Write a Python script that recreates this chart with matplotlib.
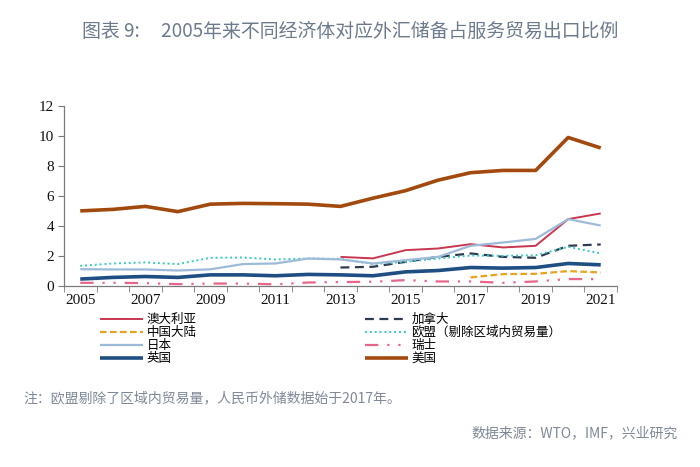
import numpy as np
import matplotlib

matplotlib.use("Agg")
import matplotlib.pyplot as plt
from matplotlib.ticker import FixedLocator

plt.rcParams["font.family"] = ["Noto Sans CJK SC", "DejaVu Sans"]

years = list(range(2005, 2022))
nan = np.nan

# 外汇储备 / 服务贸易出口 (倍)
australia = [nan] * 8 + [1.93, 1.83, 2.38, 2.49, 2.78, 2.56, 2.67, 4.45, 4.83]
canada = [nan] * 8 + [1.22, 1.27, 1.60, 1.93, 2.16, 1.93, 1.87, 2.67, 2.76]
china = [nan] * 12 + [0.56, 0.78, 0.80, 0.98, 0.89]
eu = [1.33, 1.49, 1.56, 1.45, 1.87, 1.89, 1.76, 1.82, 1.80,
      1.45, 1.60, 1.82, 2.02, 2.00, 2.04, 2.60, 2.16]
japan = [1.11, 1.09, 1.09, 1.02, 1.10, 1.45, 1.49, 1.82, 1.76,
         1.49, 1.71, 1.93, 2.67, 2.89, 3.13, 4.45, 4.02]
swiss = [0.20, 0.20, 0.18, 0.11, 0.15, 0.15, 0.10, 0.22, 0.25,
         0.27, 0.38, 0.29, 0.29, 0.20, 0.29, 0.45, 0.45]
uk = [0.45, 0.56, 0.62, 0.56, 0.73, 0.73, 0.67, 0.76, 0.73,
      0.67, 0.93, 1.02, 1.22, 1.18, 1.22, 1.49, 1.40]
us = [5.00, 5.10, 5.30, 4.95, 5.45, 5.50, 5.48, 5.45, 5.30,
      5.85, 6.35, 7.05, 7.55, 7.70, 7.70, 9.90, 9.20]

series = [
    ("澳大利亚", australia, dict(color="#c8374f", lw=1.4, ls="-")),
    ("加拿大", canada, dict(color="#2e3b52", lw=1.6, ls=(0, (4, 2.5)))),
    ("中国大陆", china, dict(color="#e8a321", lw=1.6, ls=(0, (3, 1.5)))),
    ("欧盟（剔除区域内贸易量）", eu, dict(color="#3cc8c0", lw=1.4, ls=(0, (1, 1.5)))),
    ("日本", japan, dict(color="#9dbbd9", lw=1.6, ls="-")),
    ("瑞士", swiss, dict(color="#e8668a", lw=1.6, ls=(0, (6, 4, 1, 4, 1, 4)))),
    ("英国", uk, dict(color="#1f4f82", lw=2.6, ls="-")),
    ("美国", us, dict(color="#a24a0e", lw=2.6, ls="-")),
]

fig = plt.figure(figsize=(7, 4.67), dpi=100)
ax = fig.add_axes([0.0914, 0.388, 0.790, 0.385])

handles = []
for name, vals, style in series:
    (line,) = ax.plot(years, vals, label=name, solid_capstyle="butt", **style)
    handles.append(line)

ax.set_xlim(2004.5, 2021.5)
ax.set_ylim(0, 12)
ax.set_yticks(range(0, 13, 2))
ax.set_xticks(years[::2])
ax.xaxis.set_minor_locator(FixedLocator(np.arange(2004.5, 2022, 1)))

axis_grey = "#7a7a7a"
for side in ("top", "right"):
    ax.spines[side].set_visible(False)
for side in ("left", "bottom"):
    ax.spines[side].set_color(axis_grey)
    ax.spines[side].set_linewidth(0.9)

ax.tick_params(axis="x", which="major", length=0, pad=6)
ax.tick_params(axis="x", which="minor", length=4, color=axis_grey, direction="out")
ax.tick_params(axis="y", length=4, color=axis_grey, direction="out", pad=3)
for lbl in ax.get_xticklabels() + ax.get_yticklabels():
    lbl.set_fontfamily("Liberation Serif")
    lbl.set_fontsize(11)
    lbl.set_color("#111111")

# legend fills column by column: left = even entries, right = odd entries
order = handles[0::2] + handles[1::2]
ax.legend(
    handles=order,
    ncol=2,
    loc="upper left",
    bbox_to_anchor=(0.143, 0.33),
    bbox_transform=fig.transFigure,
    frameon=False,
    fontsize=9,
    handlelength=3.4,
    handletextpad=0.3,
    labelspacing=0.0,
    columnspacing=13.5,
    borderaxespad=0,
    borderpad=0,
)

fig.text(0.5, 0.933, "图表 9:     2005年来不同经济体对应外汇储备占服务贸易出口比例",
         ha="center", va="center", fontsize=13.6, color="#6c7a8e")
fig.text(0.034, 0.148, "注：欧盟剔除了区域内贸易量，人民币外储数据始于2017年。",
         ha="left", va="center", fontsize=10, color="#7f8898")
fig.text(0.968, 0.073, "数据来源：WTO，IMF，兴业研究",
         ha="right", va="center", fontsize=10, color="#7f8898")

fig.savefig("out.png", dpi=100)
